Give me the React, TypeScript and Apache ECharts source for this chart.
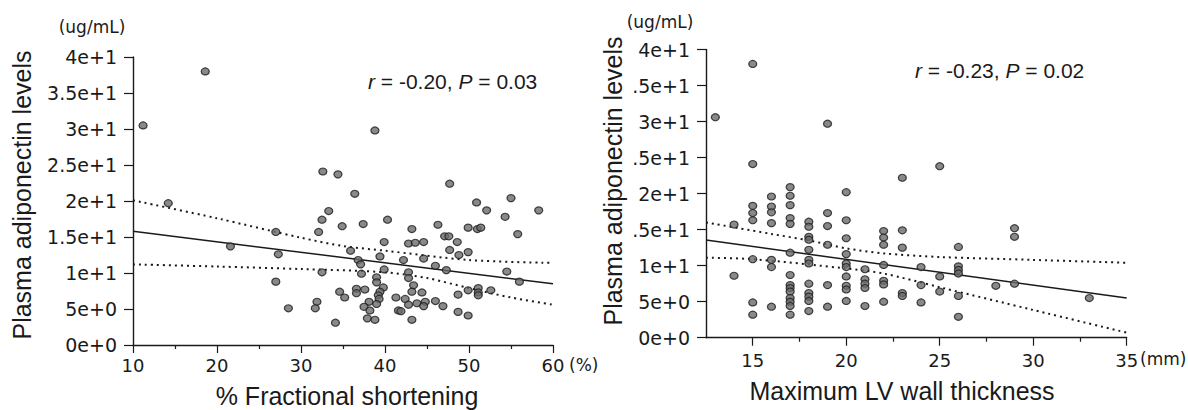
import React, { useEffect, useRef } from "react";
import * as echarts from "echarts";

// ---------- data ----------
const leftYTickLabels = ["0e+0", "5e+0", "1e+1", "1.5e+1", "2e+1", "2.5e+1", "3e+1", "3.5e+1", "4e+1"];
const rightYTickLabels = ["0e+0", "5e+0", "1e+1", ".5e+1", "2e+1", ".5e+1", "3e+1", ".5e+1", "4e+1"];
const rightXTicks = [15, 20, 25, 30, 35];
const rightXMinorTicks = [17.5, 22.5, 27.5, 32.5];

// % fractional shortening vs adiponectin
const fsPoints: [number, number][] = [
  [11.2, 30.5], [18.6, 38], [38.8, 29.8], [32.6, 24.1], [34.4, 23.7], [36.4, 21.0], [14.2, 19.7],
  [33.3, 18.6], [32.5, 17.4], [40.3, 17.4], [47.7, 22.4], [50.9, 19.8], [55.0, 20.4], [52.1, 18.7],
  [58.3, 18.7], [54.3, 17.8], [34.9, 16.5], [37.4, 16.8], [32.1, 15.7], [43.2, 16.1], [39.9, 14.3],
  [42.8, 14.1], [43.6, 14.2], [44.6, 14.3], [27.3, 12.6], [35.9, 13.1], [39.4, 12.3], [36.8, 11.8],
  [37.1, 11.2], [42.2, 11.8], [44.6, 12.0], [39.9, 10.5], [32.5, 10.1], [37.2, 9.9], [42.8, 10.1],
  [42.8, 9.3], [39.0, 9.4], [39.0, 8.7], [43.4, 8.3], [36.6, 7.8], [36.6, 7.2], [37.6, 7.7],
  [34.6, 7.4], [35.2, 6.6], [39.8, 8.0], [39.4, 7.4], [39.2, 6.9], [43.2, 7.4], [44.4, 7.3],
  [41.3, 6.6], [42.4, 6.4], [42.8, 5.6], [43.8, 5.8], [44.8, 6.0], [44.6, 5.4], [38.1, 6.0],
  [37.5, 5.3], [38.2, 4.8], [39.3, 6.4], [39.0, 5.7], [41.6, 4.8], [41.9, 4.7], [37.9, 3.7],
  [38.8, 3.5], [43.2, 3.5], [34.1, 3.1], [28.5, 5.1], [31.9, 6.0], [31.7, 5.1], [27.0, 15.7],
  [21.6, 13.7], [27.0, 8.8], [46.3, 16.7], [49.9, 16.3], [51.0, 16.1], [51.4, 16.3], [55.8, 15.4],
  [47.1, 15.1], [47.6, 15.1], [48.6, 14.3], [47.7, 13.2], [48.8, 12.5], [49.9, 12.9], [46.0, 11.0],
  [47.3, 10.4], [54.5, 10.2], [56.0, 8.8], [48.7, 7.0], [49.9, 7.6], [51.1, 7.9], [51.1, 7.3],
  [51.1, 6.9], [52.6, 7.6], [46.0, 6.1], [46.9, 5.4], [48.7, 4.6], [49.9, 4.1],
];
const fsFit: [number, number][] = [[10, 15.8], [60, 8.5]];
const fsUpper: [number, number][] = [[10, 20.1], [20, 17.6], [30, 14.9], [35, 13.75], [40, 13.1], [50, 11.8], [60, 11.4]];
const fsLower: [number, number][] = [[10, 11.2], [20, 10.9], [30, 10.55], [40, 10.1], [45, 9.3], [50, 7.9], [55, 6.6], [60, 5.6]];

// Maximum LV wall thickness vs adiponectin
const lvPoints: [number, number][] = [
  [13, 30.6], [15, 38.0], [19, 29.7], [15, 24.1], [20, 20.2], [17, 20.9], [17, 19.7], [17, 18.4],
  [17, 16.6], [17, 15.8], [16, 19.6], [16, 18.2], [16, 17.4], [16, 15.9], [15, 18.3], [15, 17.3],
  [15, 16.3], [14, 15.7], [18, 16.1], [18, 15.4], [18, 14.0], [18, 13.6], [18, 12.2], [18, 10.8],
  [18, 10.3], [19, 17.3], [19, 15.5], [19, 12.9], [20, 16.3], [20, 13.8], [20, 11.6], [20, 10.3],
  [20, 9.8], [20, 8.5], [20, 7.2], [20, 6.7], [20, 5.1], [21, 9.5], [21, 8.1], [21, 7.5], [21, 6.9],
  [21, 4.4], [22, 14.8], [22, 13.9], [22, 12.9], [22, 10.1], [22, 7.9], [22, 7.4], [22, 5.0],
  [17, 11.8], [16, 10.8], [16, 9.8], [15, 10.9], [14, 8.6], [17, 8.7], [17, 7.3], [17, 6.9],
  [17, 6.4], [17, 5.5], [17, 5.0], [17, 4.4], [17, 3.2], [18, 7.5], [18, 6.2], [18, 5.7], [18, 5.1],
  [18, 3.7], [19, 7.3], [19, 4.3], [16, 4.3], [15, 4.9], [15, 3.2], [23, 22.2], [25, 23.8],
  [23, 14.9], [23, 12.5], [23, 6.2], [23, 5.8], [24, 9.8], [24, 7.3], [24, 4.9], [25, 8.5], [25, 6.4],
  [26, 12.6], [26, 9.9], [26, 9.4], [26, 8.9], [26, 5.8], [26, 2.9], [28, 7.2], [29, 15.2], [29, 14.0],
  [29, 7.5], [33, 5.5],
];
const lvFit: [number, number][] = [[12.5, 13.55], [35, 5.5]];
const lvUpper: [number, number][] = [[12.5, 16.0], [16, 14.4], [18, 13.5], [20, 12.4], [22, 11.7], [25, 11.2], [30, 10.8], [35, 10.4]];
const lvLower: [number, number][] = [[12.5, 11.1], [15, 10.9], [20, 9.6], [22, 8.9], [25, 7.0], [30, 3.85], [35, 0.7]];

const TICK_FONT = "DejaVu Sans";
const TITLE_FONT = "Liberation Sans, Arial, sans-serif";
const INK = "#1a1a1a";

export default function App() {
  const ref = useRef<HTMLDivElement>(null);
  useEffect(() => {
    if (!ref.current) return;
    const chart = echarts.init(ref.current, undefined, { renderer: "svg" });

    const axisLine = { show: true, lineStyle: { color: INK, width: 1.4 } };
    const yAxisBase = (gridIndex: number, labels: string[]) => ({
      type: "value",
      gridIndex,
      min: 0,
      max: 40,
      interval: 5,
      splitLine: { show: false },
      axisLine,
      axisTick: { show: true, length: 9, lineStyle: { color: INK, width: 1.2 } },
      axisLabel: {
        margin: 16,
        fontFamily: TICK_FONT,
        fontSize: 19,
        color: INK,
        formatter: (v: number) => labels[Math.round(v / 5)] ?? "",
      },
    });

    const scatterStyle = {
      color: "#6b6b6b",
      borderColor: "#1c1c1c",
      borderWidth: 1.2,
    };
    const dotted = { color: INK, width: 2, type: [2, 4] as any };

    chart.setOption({
      animation: false,
      backgroundColor: "#ffffff",
      grid: [
        { left: 133, top: 57, width: 420, height: 288 },
        { left: 706, top: 49.5, width: 420.7, height: 288.2 },
      ],
      xAxis: [
        {
          type: "value",
          gridIndex: 0,
          position: "bottom",
          min: 10,
          max: 60,
          interval: 10,
          splitLine: { show: false },
          axisLine,
          axisTick: { show: true, length: 8, lineStyle: { color: INK, width: 1.2 } },
          minorTick: { show: true, splitNumber: 2, length: 4, lineStyle: { color: INK, width: 1.2 } },
          axisLabel: { margin: 11, fontFamily: TICK_FONT, fontSize: 18, color: INK },
        },
        {
          type: "value",
          gridIndex: 1,
          position: "bottom",
          min: 12.5,
          max: 35,
          splitLine: { show: false },
          axisLine,
          axisTick: { show: true, length: 8, customValues: rightXTicks, lineStyle: { color: INK, width: 1.2 } },
          axisLabel: { margin: 14, fontFamily: TICK_FONT, fontSize: 18, color: INK, customValues: rightXTicks },
        },
        {
          type: "value",
          gridIndex: 1,
          position: "bottom",
          offset: 0,
          min: 12.5,
          max: 35,
          splitLine: { show: false },
          axisLine: { show: false },
          axisTick: { show: true, length: 4, customValues: rightXMinorTicks, lineStyle: { color: INK, width: 1.2 } },
          axisLabel: { show: false, customValues: rightXMinorTicks },
        },
      ],
      yAxis: [yAxisBase(0, leftYTickLabels), yAxisBase(1, rightYTickLabels)],
      series: [
        {
          type: "scatter",
          xAxisIndex: 0,
          yAxisIndex: 0,
          data: fsPoints,
          symbolSize: [8, 7],
          itemStyle: scatterStyle,
          z: 3,
        },
        { type: "line", xAxisIndex: 0, yAxisIndex: 0, data: fsFit, symbol: "none", lineStyle: { color: INK, width: 1.5 }, z: 2 },
        { type: "line", xAxisIndex: 0, yAxisIndex: 0, data: fsUpper, symbol: "none", smooth: 0.3, lineStyle: dotted, z: 2 },
        { type: "line", xAxisIndex: 0, yAxisIndex: 0, data: fsLower, symbol: "none", smooth: 0.3, lineStyle: dotted, z: 2 },
        {
          type: "scatter",
          xAxisIndex: 1,
          yAxisIndex: 1,
          data: lvPoints,
          symbolSize: [8, 7],
          itemStyle: scatterStyle,
          z: 3,
        },
        { type: "line", xAxisIndex: 1, yAxisIndex: 1, data: lvFit, symbol: "none", lineStyle: { color: INK, width: 1.5 }, z: 2 },
        { type: "line", xAxisIndex: 1, yAxisIndex: 1, data: lvUpper, symbol: "none", smooth: 0.3, lineStyle: dotted, z: 2 },
        { type: "line", xAxisIndex: 1, yAxisIndex: 1, data: lvLower, symbol: "none", smooth: 0.3, lineStyle: dotted, z: 2 },
      ],
      graphic: [
        // y-axis titles
        {
          type: "text", x: 22, y: 195, rotation: Math.PI / 2,
          style: { text: "Plasma adiponectin levels", font: `25px ${TITLE_FONT}`, fill: INK, align: "center", verticalAlign: "middle" },
        },
        {
          type: "text", x: 613, y: 181, rotation: Math.PI / 2,
          style: { text: "Plasma adiponectin levels", font: `25px ${TITLE_FONT}`, fill: INK, align: "center", verticalAlign: "middle" },
        },
        // units
        { type: "text", x: 92, y: 27, style: { text: "(ug/mL)", font: `17px ${TICK_FONT}`, fill: INK, align: "center", verticalAlign: "middle" } },
        { type: "text", x: 660, y: 22, style: { text: "(ug/mL)", font: `17px ${TICK_FONT}`, fill: INK, align: "center", verticalAlign: "middle" } },
        { type: "text", x: 569, y: 365, style: { text: "(%)", font: `17px ${TICK_FONT}`, fill: INK, align: "left", verticalAlign: "middle" } },
        { type: "text", x: 1140, y: 359, style: { text: "(mm)", font: `17px ${TICK_FONT}`, fill: INK, align: "left", verticalAlign: "middle" } },
        // x-axis titles
        { type: "text", x: 347, y: 396, style: { text: "% Fractional shortening", font: `25px ${TITLE_FONT}`, fill: INK, align: "center", verticalAlign: "middle" } },
        { type: "text", x: 902, y: 391, style: { text: "Maximum LV wall thickness", font: `25px ${TITLE_FONT}`, fill: INK, align: "center", verticalAlign: "middle" } },
        // correlation annotations
        {
          type: "text", x: 368, y: 81,
          style: {
            text: "{i|r} = -0.20, {i|P} = 0.03",
            font: `21px ${TITLE_FONT}`, fill: INK, align: "left", verticalAlign: "middle",
            rich: { i: { fontStyle: "italic", fontSize: 21, fontFamily: TITLE_FONT, fill: INK } },
          },
        },
        {
          type: "text", x: 915, y: 70.5,
          style: {
            text: "{i|r} = -0.23, {i|P} = 0.02",
            font: `21px ${TITLE_FONT}`, fill: INK, align: "left", verticalAlign: "middle",
            rich: { i: { fontStyle: "italic", fontSize: 21, fontFamily: TITLE_FONT, fill: INK } },
          },
        },
      ],
    });
    return () => chart.dispose();
  }, []);

  return (
    <div
      ref={ref}
      style={{ position: "fixed", left: 0, top: 0, width: 1188, height: 410, background: "#fff" }}
    />
  );
}
